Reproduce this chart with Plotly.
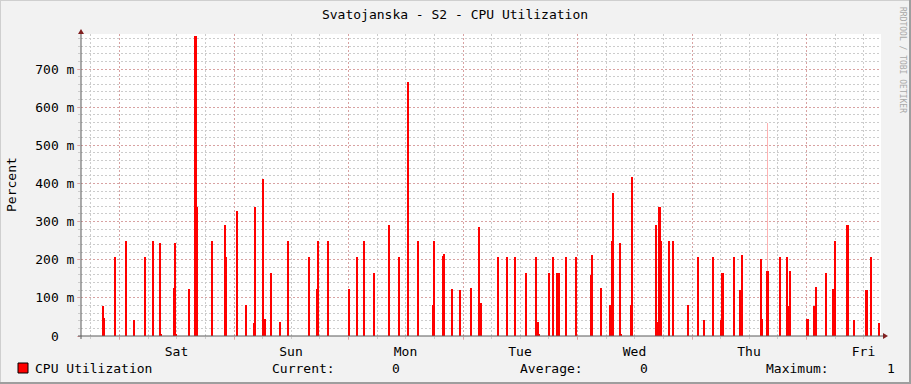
import plotly.graph_objects as go

# ---------------- data (hours since Sat 00:00, CPU utilization in percent) ----------------
spike_hours = [
    -3.35, -3.14, -0.84, 1.47, 3.14, 5.45, 7.13, 8.59, 8.80, 11.53, 11.74, 11.95, 14.60,
    15.93, 16.14, 16.35, 19.49, 22.22, 22.43, 24.73,
    26.62, 28.30, 28.51, 30.18, 30.39, 30.60, 31.86, 33.75, 35.42, 39.82, 41.50, 41.71,
    43.81, 48.21, 49.88, 51.35, 53.45, 56.59, 58.69,
    60.57, 62.67, 65.81, 66.02, 67.91, 68.12, 69.80, 71.47, 73.78, 75.46, 75.67, 75.88,
    79.44, 81.33, 83.00, 85.31, 87.40, 87.61, 87.82, 88.03, 90.13, 90.97, 91.80, 92.01, 92.22,
    93.69, 95.79, 98.93, 99.14, 101.03, 102.91, 103.12, 103.33, 103.54, 105.01, 105.22,
    107.31, 107.52, 112.55, 112.76, 112.97, 113.18, 113.39, 113.60, 115.28, 116.12,
    119.26, 121.36, 122.62, 124.50,
    126.18, 126.39, 126.60, 128.90, 130.16, 130.37, 130.58, 134.56, 134.77, 135.82, 136.03,
    138.54, 140.01, 140.22, 140.43, 140.64, 144.20, 144.41, 145.67, 145.88, 146.08, 148.18,
    149.65, 149.86, 150.07, 152.58, 152.79, 154.05, 156.56, 156.77, 157.61, 159.29,
]
spike_values = [
    0.079, 0.047, 0.207, 0.249, 0.042, 0.207, 0.249, 0.244, 0.005, 0.127, 0.244, 0.005, 0.123,
    0.787, 0.787, 0.338, 0.249, 0.291, 0.207, 0.328,
    0.080, 0.034, 0.338, 0.412, 0.045, 0.045, 0.165, 0.037, 0.249, 0.207, 0.123, 0.249,
    0.249, 0.123, 0.207, 0.249, 0.165, 0.291, 0.207,
    0.666, 0.249, 0.081, 0.249, 0.210, 0.215, 0.123, 0.120, 0.126, 0.286, 0.086, 0.086,
    0.207, 0.207, 0.207, 0.165, 0.207, 0.037, 0.037, 0.005, 0.165, 0.207, 0.165, 0.165, 0.165,
    0.207, 0.207, 0.160, 0.212, 0.126, 0.081, 0.081, 0.249, 0.375, 0.244, 0.005,
    0.081, 0.417, 0.291, 0.037, 0.037, 0.338, 0.338, 0.249, 0.249, 0.249,
    0.081, 0.207, 0.042, 0.207,
    0.042, 0.165, 0.165, 0.207, 0.120, 0.120, 0.212, 0.202, 0.045, 0.170, 0.170,
    0.207, 0.207, 0.079, 0.079, 0.170, 0.045, 0.045, 0.079, 0.079, 0.128, 0.165,
    0.123, 0.123, 0.249, 0.291, 0.291, 0.042, 0.120, 0.120, 0.207, 0.034,
]
faint_hours = [135.80]
faint_values = [0.558]

day_starts = [0, 24, 48, 72, 96, 120, 144]
day_labels = ["Sat", "Sun", "Mon", "Tue", "Wed", "Thu", "Fri"]
y_tick_vals = [0, 0.1, 0.2, 0.3, 0.4, 0.5, 0.6, 0.7]
y_tick_text = ["0\u00a0\u00a0", "100 m", "200 m", "300 m", "400 m", "500 m", "600 m", "700 m"]

title_text = "Svatojanska - S2 - CPU Utilization"
series_name = "CPU Utilization"
stat_labels = ["Current:", "Average:", "Maximum:"]
stat_values = ["0", "0", "1"]

# ---------------- layout constants ----------------
W, H = 911, 384
L, R, T, B = 81, 30, 34, 48
PW, PH = W - L - R, H - T - B
PX_PER_H = 4.771
X0 = -(119.5 - L) / PX_PER_H
X1 = X0 + PW / PX_PER_H
YMAX = 0.792

FONT = "DejaVu Sans Mono"
GRID = "#CCCCCC"
MGRID = "rgba(228,120,120,0.5)"
AXIS = "#5A5A5A"
ARROW = "#801F1F"


def fx(px):
    return (px - L) / PW


def fy(py):
    return (H - B - py) / PH


fig = go.Figure()
fig.add_bar(x=spike_hours, y=spike_values, width=0.23,
            marker=dict(color="#FF0000", line=dict(width=0)), showlegend=False)
fig.add_bar(x=faint_hours, y=faint_values, width=0.14,
            marker=dict(color="rgba(255,0,0,0.3)", line=dict(width=0)), showlegend=False)

shapes = []
# borders (3D shade)
shapes.append(dict(type="line", xref="paper", yref="paper", x0=fx(0), x1=fx(W), y0=fy(0.5), y1=fy(0.5),
                   line=dict(color="#CFCFCF", width=1)))
shapes.append(dict(type="line", xref="paper", yref="paper", x0=fx(0.5), x1=fx(0.5), y0=fy(0), y1=fy(H),
                   line=dict(color="#CFCFCF", width=1)))
shapes.append(dict(type="line", xref="paper", yref="paper", x0=fx(0), x1=fx(W), y0=fy(H - 1), y1=fy(H - 1),
                   line=dict(color="#9E9E9E", width=2)))
shapes.append(dict(type="line", xref="paper", yref="paper", x0=fx(W - 1), x1=fx(W - 1), y0=fy(0), y1=fy(H),
                   line=dict(color="#9E9E9E", width=2)))
# axes
shapes.append(dict(type="line", xref="paper", yref="paper", x0=fx(81), x1=fx(81), y0=fy(339), y1=fy(31),
                   line=dict(color=AXIS, width=1)))
shapes.append(dict(type="line", xref="paper", yref="paper", x0=fx(78), x1=fx(884), y0=fy(336), y1=fy(336),
                   line=dict(color=AXIS, width=1)))
# arrows
shapes.append(dict(type="path", xref="paper", yref="paper",
                   path=f"M {fx(78)},{fy(34)} L {fx(84)},{fy(34)} L {fx(81)},{fy(29)} Z",
                   fillcolor=ARROW, line=dict(width=0)))
shapes.append(dict(type="path", xref="paper", yref="paper",
                   path=f"M {fx(883)},{fy(333)} L {fx(883)},{fy(339)} L {fx(888)},{fy(336)} Z",
                   fillcolor=ARROW, line=dict(width=0)))
# legend swatch
shapes.append(dict(type="rect", xref="paper", yref="paper", x0=fx(18), x1=fx(28), y0=fy(363), y1=fy(373),
                   fillcolor="#FF0000", line=dict(color="#000000", width=1)))

tfont = dict(family=FONT, size=13, color="#000000")
ann = []
ann.append(dict(text="Percent", xref="paper", yref="paper", x=fx(11), y=fy(185), textangle=-90,
                showarrow=False, font=tfont, xanchor="center", yanchor="middle"))
ann.append(dict(text="RRDTOOL / TOBI OETIKER", xref="paper", yref="paper", x=fx(903), y=fy(60), textangle=90,
                showarrow=False, font=dict(family=FONT, size=8, color="#A8A8A8"), xanchor="center", yanchor="middle"))
ann.append(dict(text=series_name, xref="paper", yref="paper", x=fx(33), y=fy(368), showarrow=False,
                font=tfont, xanchor="left", yanchor="middle"))
for lab, lx, val, vx in zip(stat_labels, [270, 518, 764], stat_values, [390, 638, 885]):
    ann.append(dict(text=lab, xref="paper", yref="paper", x=fx(lx), y=fy(368), showarrow=False,
                    font=tfont, xanchor="left", yanchor="middle"))
    ann.append(dict(text=val, xref="paper", yref="paper", x=fx(vx), y=fy(368), showarrow=False,
                    font=tfont, xanchor="left", yanchor="middle"))

fig.update_layout(
    width=W, height=H,
    margin=dict(l=L, r=R, t=T, b=B, pad=0),
    paper_bgcolor="#F2F2F2", plot_bgcolor="#FFFFFF",
    barmode="overlay", bargap=0,
    title=dict(text=title_text, x=455 / W, y=1 - 14 / H, xanchor="center", yanchor="middle",
               font=dict(family=FONT, size=13, color="#000000")),
    xaxis=dict(range=[X0, X1], tickmode="array", tickvals=day_starts, ticktext=day_labels,
               ticklabelshift=57, showgrid=True, gridcolor=MGRID, griddash="2px,2px", gridwidth=1,
               ticks="outside", ticklen=3, tickcolor=MGRID, zeroline=False, showline=False,
               tickfont=tfont,
               minor=dict(dtick=6, tick0=0, showgrid=True, gridcolor=GRID, griddash="2px,2px",
                          ticks="outside", ticklen=2, tickcolor=GRID)),
    yaxis=dict(range=[0, YMAX], tickmode="array", tickvals=y_tick_vals, ticktext=y_tick_text,
               showgrid=True, gridcolor=MGRID, griddash="2px,2px", gridwidth=1,
               ticks="outside", ticklen=3, tickcolor=MGRID, zeroline=False, showline=False,
               tickfont=tfont,
               minor=dict(dtick=0.02, tick0=0, showgrid=True, gridcolor=GRID, griddash="2px,2px",
                          ticks="outside", ticklen=2, tickcolor=GRID)),
    shapes=shapes, annotations=ann, showlegend=False,
)

fig.write_html("out.html")
